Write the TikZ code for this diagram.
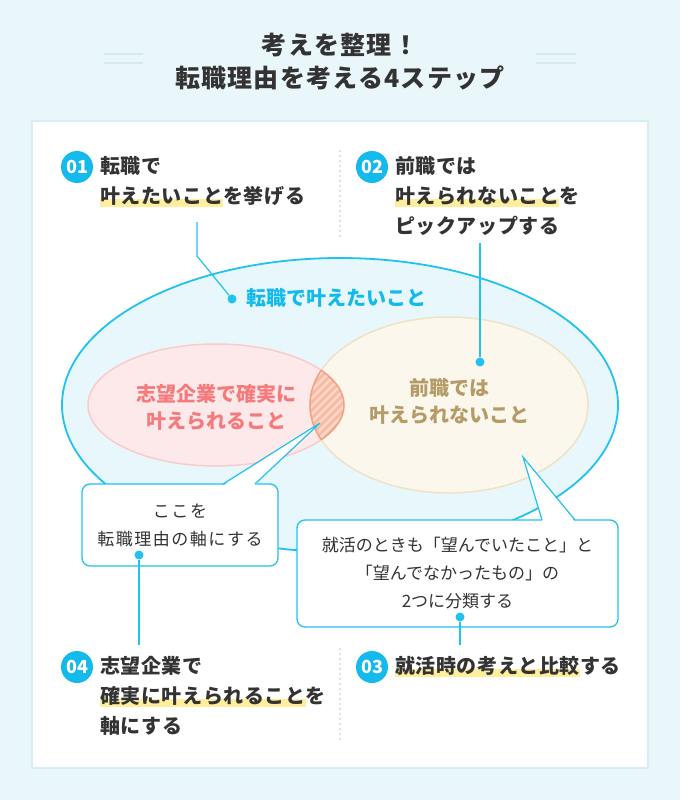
\documentclass[tikz,border=0pt]{standalone}
\usepackage{fontspec}
\setmainfont{Noto Sans CJK JP}
\newfontfamily\trackstep{Noto Sans CJK JP}[LetterSpace=3]
\newfontfamily\tracktitle{Noto Sans CJK JP}[LetterSpace=5]
\newfontfamily\trackcall{Noto Sans CJK JP}[LetterSpace=9]
\usetikzlibrary{positioning}

\definecolor{bgblue}{HTML}{EAF7FA}
\definecolor{panelline}{HTML}{D6EFF6}
\definecolor{decoline}{HTML}{D3EAF3}
\definecolor{textdark}{HTML}{333333}
\definecolor{cyanmain}{HTML}{14BAEC}
\definecolor{cyanline}{HTML}{22C2EE}
\definecolor{bigfill}{HTML}{E7F7FC}
\definecolor{pinkfill}{HTML}{FDE9EA}
\definecolor{pinkline}{HTML}{FBCACB}
\definecolor{pinktext}{HTML}{F47A7C}
\definecolor{beigefill}{HTML}{FCF7EC}
\definecolor{beigeline}{HTML}{EEE2C7}
\definecolor{beigetext}{HTML}{B59B68}
\definecolor{hatchbase}{HTML}{FCD9CA}
\definecolor{hatchline}{HTML}{F8BBA3}
\definecolor{hatchedge}{HTML}{F3A084}
\definecolor{hlyellow}{HTML}{FFEF9C}
\definecolor{divider}{HTML}{E0E0E0}

\newcommand\hlt[1]{\setbox0\hbox{#1}\rlap{\textcolor{hlyellow}{\rule[-3.5pt]{\wd0}{8pt}}}\box0}

\begin{document}
\begin{tikzpicture}[x=1pt,y=-1pt,
  every node/.style={text=textdark},
  step num/.style={circle,fill=cyanmain,text=white,inner sep=0,minimum size=32pt,
    font=\bfseries\fontsize{18}{18}\selectfont},
  step text/.style={anchor=north west,align=left,inner sep=0,
    font=\trackstep\bfseries\fontsize{20}{30}\selectfont},
  oval text/.style={align=center,inner sep=0,font=\bfseries\fontsize{20}{27}\selectfont},
  call box/.style={rectangle,rounded corners=8pt,fill=white,draw=cyanline,line width=1.3pt,
    align=center,font=\fontsize{17}{28}\selectfont},
  dot/.style={circle,fill=cyanline,inner sep=0,minimum size=9pt},
  link/.style={draw=cyanline,line width=1.2pt}]

  \useasboundingbox (0,0) rectangle (680,800);
  \fill[bgblue] (0,0) rectangle (680,800);

  % title
  \node[align=center,font=\tracktitle\bfseries\fontsize{25}{33}\selectfont] (title) at (340,62)
    {考えを整理！\\転職理由を考える4ステップ};
  \draw[decoline,line width=2.5pt] (104,54) -- (143,54) (104,63) -- (143,63)
    (536,54) -- (576,54) (536,63) -- (576,63);

  \filldraw[fill=white,draw=panelline,line width=1.5pt] (32,121) rectangle (648,768);
  \draw[divider,line width=1.2pt,dash pattern=on 2pt off 3pt] (340,150) -- (340,240)
    (340,648) -- (340,740);

  % ovals
  \filldraw[fill=bigfill,draw=cyanline,line width=1.8pt] (340,405) ellipse [x radius=278, y radius=147];
  \filldraw[fill=pinkfill,draw=pinkline,line width=1.5pt] (216,405) ellipse [x radius=128, y radius=61];
  \filldraw[fill=beigefill,draw=beigeline,line width=1.5pt] (449,405) ellipse [x radius=139, y radius=88];
  \begin{scope}
    \clip (216,405) ellipse [x radius=128, y radius=61];
    \begin{scope}
      \clip (449,405) ellipse [x radius=139, y radius=88];
      \fill[hatchbase] (300,340) rectangle (360,470);
      \foreach \k in {650,658,...,830}
        \draw[hatchline,line width=3pt] (\k-470,470) -- (\k-340,340);
    \end{scope}
    \draw[hatchedge,line width=1.5pt] (449,405) ellipse [x radius=139, y radius=88];
  \end{scope}
  \begin{scope}
    \clip (449,405) ellipse [x radius=139, y radius=88];
    \draw[hatchedge,line width=1.5pt] (216,405) ellipse [x radius=128, y radius=61];
  \end{scope}

  \node[oval text,text=pinktext] (want) at (216,407) {志望企業で確実に\\叶えられること};
  \node[oval text,text=beigetext] (cannot) at (449,401) {前職では\\叶えられないこと};
  \node[oval text,text=cyanmain,anchor=west] (goal) at (246,298) {転職で叶えたいこと};

  % steps
  \node[step num] (n1) at (77,167) {01};
  \node[step text] (s1) at (100,156) {転職で\\\hlt{叶えたいこと}を挙げる};
  \node[step num] (n2) at (372,167) {02};
  \node[step text] (s2) at (395,156) {前職では\\\hlt{叶えられないこと}を\\ピックアップする};
  \node[step num] (n4) at (77,667) {04};
  \node[step text] (s4) at (100,656) {志望企業で\\\hlt{確実に叶えられること}を\\軸にする};
  \node[step num] (n3) at (372,667) {03};
  \node[step text] (s3) at (395,656) {\hlt{就活時の考えと比較}する};

  % links
  \node[dot] (d1) at (232,299) {};
  \node[dot] (d2) at (480,362) {};
  \coordinate (c1) at (197,222);
  \coordinate (c2) at (480,243);
  \draw[link] (c1) -- (197,256) -- (d1);
  \draw[link] (c2) -- (d2);

  % callouts
  \node[call box,font={\trackcall\fontsize{17}{28}\selectfont},minimum width=196pt,minimum height=82pt]
    (b1) at (180,525) {ここを\\転職理由の軸にする};
  \fill[white] (223.6,485.5) -- (320,423) -- (254.4,485.5) -- cycle;
  \draw[link] (223,484) -- (320,423) -- (255,484);

  \node[call box,minimum width=321pt,minimum height=107pt] (b2) at (457.5,573.5)
    {就活のときも「望んでいたこと」と\\「望んでなかったもの」の\\2つに分類する};
  \fill[white] (542.6,521.5) -- (523,457) -- (574.4,521.5) -- cycle;
  \draw[link] (542,520) -- (523,457) -- (575,520);

  \node[dot] (d4) at (139,555) {};
  \node[dot] (d3) at (460,617) {};
  \coordinate (c4) at (139,645);
  \coordinate (c3) at (460,645);
  \draw[link] (d4) -- (c4);
  \draw[link] (d3) -- (c3);
\end{tikzpicture}
\end{document}
